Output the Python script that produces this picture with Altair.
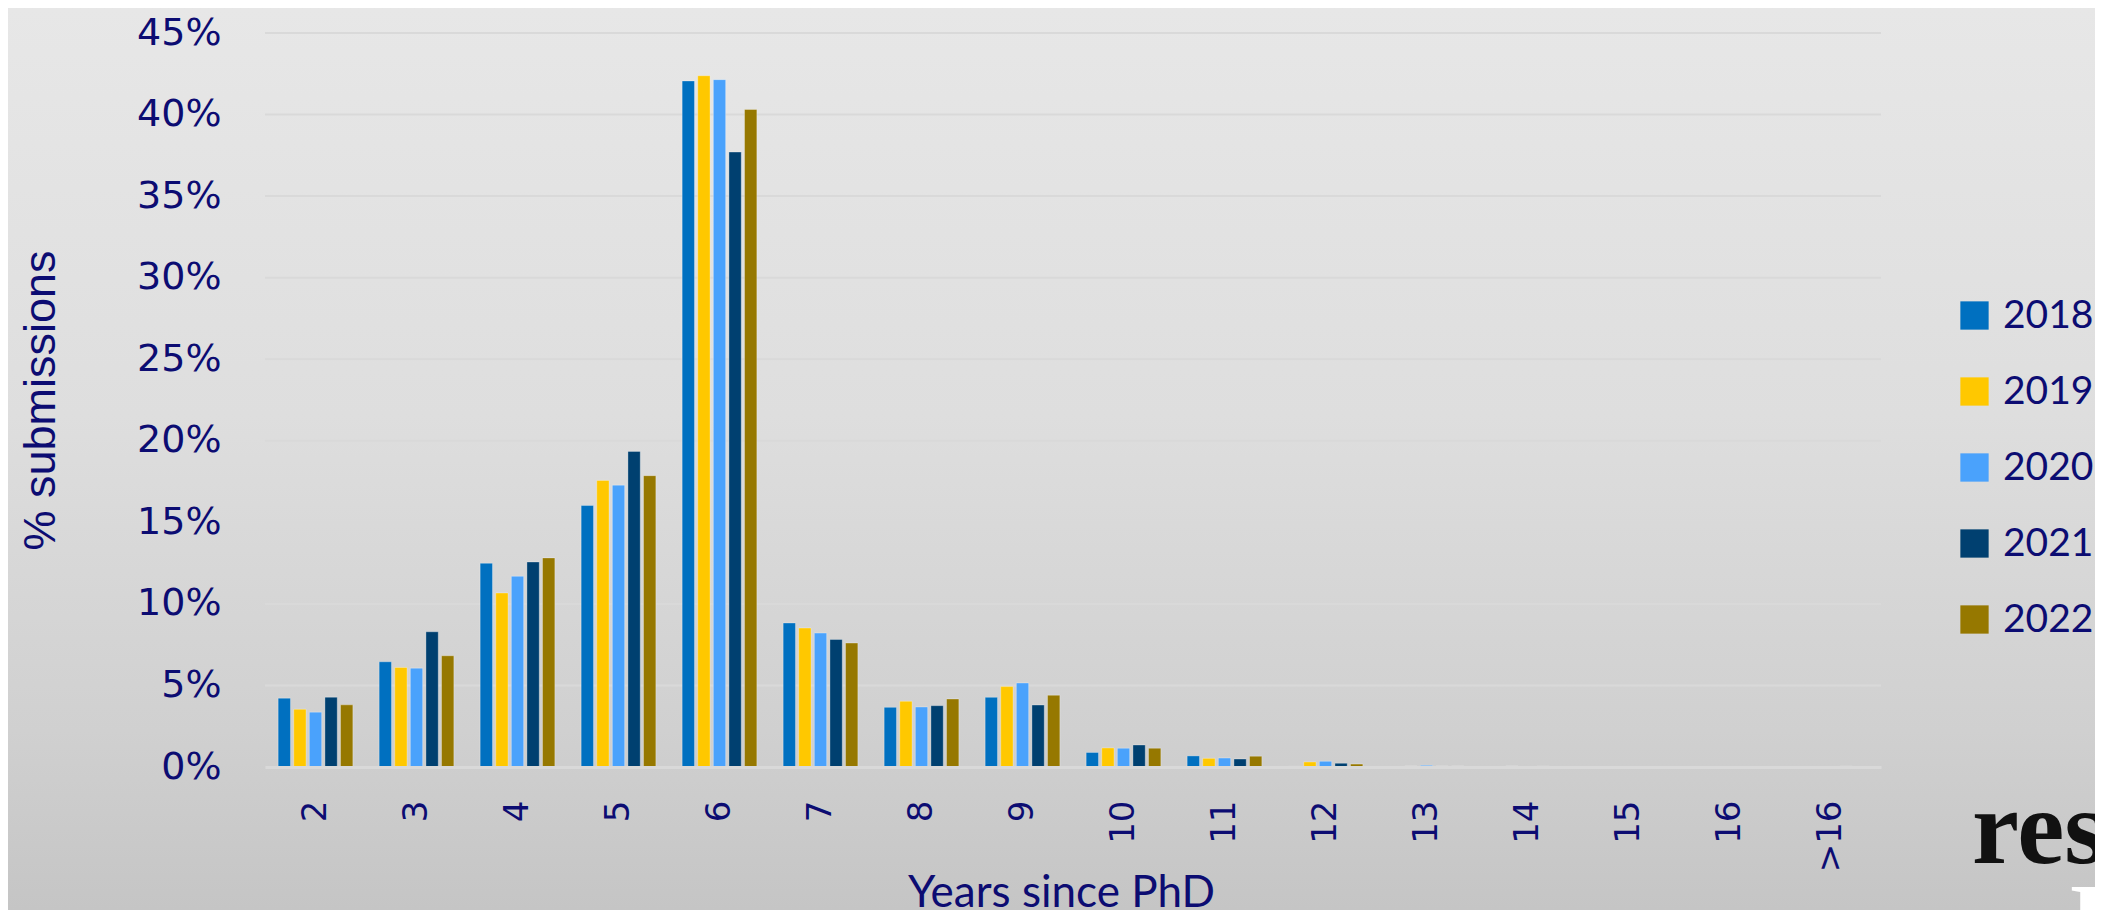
import altair as alt
import pandas as pd

# ---- data ----
categories = ["2", "3", "4", "5", "6", "7", "8", "9", "10", "11", "12", "13", "14", "15", "16", ">16"]
years = ["2018", "2019", "2020", "2021", "2022"]

v2018 = [4.22, 6.45, 12.49, 16.03, 42.06, 8.83, 3.66, 4.27, 0.89, 0.68, 0.04, 0.00, 0.00, 0.00, 0.00, 0.00]
v2019 = [3.54, 6.10, 10.67, 17.57, 42.38, 8.52, 4.03, 4.93, 1.17, 0.53, 0.31, 0.06, 0.06, 0.00, 0.00, 0.00]
v2020 = [3.36, 6.06, 11.69, 17.28, 42.14, 8.21, 3.68, 5.15, 1.15, 0.55, 0.35, 0.10, 0.00, 0.00, 0.00, 0.00]
v2021 = [4.28, 8.29, 12.57, 19.35, 37.70, 7.82, 3.76, 3.80, 1.35, 0.49, 0.23, 0.06, 0.05, 0.00, 0.00, 0.05]
v2022 = [3.81, 6.82, 12.82, 17.86, 40.31, 7.60, 4.17, 4.40, 1.15, 0.66, 0.18, 0.06, 0.00, 0.00, 0.00, 0.00]

y_ticks = [0, 5, 10, 15, 20, 25, 30, 35, 40, 45]
colors = ["#0070c0", "#ffc800", "#4aa2fc", "#004070", "#967800"]

rows = []
for yr, vals in zip(years, [v2018, v2019, v2020, v2021, v2022]):
    for c, v in zip(categories, vals):
        rows.append({"cat": c, "year": yr, "pct": v})
df = pd.DataFrame(rows)
grid_df = pd.DataFrame({"pct": y_ticks[1:]})

# ---- layout ----
W, H = 1616, 734
PAD = {"left": 257, "top": 25, "right": 214, "bottom": 143}
TEXT = "#0c0c72"
one = pd.DataFrame({"a": [0]})

bg = alt.Chart(one).mark_rect(
    color=alt.LinearGradient(
        gradient="linear",
        stops=[
            alt.GradientStop(offset=0, color="#e7e7e7"),
            alt.GradientStop(offset=0.45, color="#dedede"),
            alt.GradientStop(offset=0.8, color="#d0d0d0"),
            alt.GradientStop(offset=1, color="#c5c5c5"),
        ],
        x1=0, x2=0, y1=0, y2=1,
    )
).encode(
    x=alt.value(-PAD["left"]), x2=alt.value(W + PAD["right"]),
    y=alt.value(-PAD["top"]), y2=alt.value(H + PAD["bottom"]),
)

grid = alt.Chart(grid_df).mark_rule(color="#d9d9d9", strokeWidth=2).encode(
    y=alt.Y("pct:Q"),
    x=alt.value(0), x2=alt.value(W),
)

bars = alt.Chart(df).mark_bar(stroke="white", strokeOpacity=0.3, strokeWidth=1).encode(
    x=alt.X(
        "cat:N", sort=categories,
        scale=alt.Scale(paddingInner=0.228, paddingOuter=0.114),
        axis=alt.Axis(
            title="Years since PhD", labelAngle=270, labelFont="DejaVu Sans", labelFontSize=34,
            labelColor=TEXT, labelPadding=33, ticks=False, domain=True, domainColor="#d9d9d9",
            domainWidth=3, grid=False, titleFont="Lato", titleFontSize=44, titleFontWeight="normal",
            titleColor=TEXT, titleX=796, titleY=139, titleBaseline="alphabetic", titleAlign="center",
            zindex=1,
        ),
    ),
    xOffset=alt.XOffset("year:N", sort=years, scale=alt.Scale(paddingInner=0.21, paddingOuter=0.105)),
    y=alt.Y(
        "pct:Q", scale=alt.Scale(domain=[0, 45], nice=False),
        axis=alt.Axis(
            values=y_ticks, labelExpr="datum.value + '%'", labelFont="DejaVu Sans", labelFontSize=38,
            labelColor=TEXT, labelPadding=44, domain=False, ticks=False, grid=False,
            title="% submissions", titleFont="Liberation Sans", titleFontSize=45,
            titleFontWeight="normal", titleColor=TEXT, titleX=-225, titleY=H / 2, titleAngle=270,
            titleAlign="center", titleBaseline="middle", zindex=1,
        ),
    ),
    color=alt.Color(
        "year:N", scale=alt.Scale(domain=years, range=colors),
        legend=alt.Legend(
            title=None, orient="none", legendX=1690, legendY=263, symbolType="square",
            symbolSize=800, symbolStrokeWidth=0, symbolOpacity=1, labelFont="Lato", labelFontSize=39,
            labelColor=TEXT, rowPadding=36, labelOffset=9, padding=0, labelLimit=300, zindex=1,
        ),
    ),
)

logo = alt.Chart(one).mark_text(
    text="res", font="Liberation Serif", fontWeight="bold", fontSize=106, color="#111111",
    align="left", baseline="alphabetic",
).encode(x=alt.value(1972 - 265), y=alt.value(863 - 33))

logo2 = alt.Chart(one).mark_text(
    text="I", font="Liberation Serif", fontWeight="bold", fontSize=100, color="#ffffff",
    align="center", baseline="alphabetic",
).encode(x=alt.value(2088 - 265), y=alt.value(952 - 33))

chart = alt.layer(bg, grid, bars, logo, logo2).properties(
    width=W, height=H, padding=PAD, autosize=alt.AutoSizeParams(type="none"),
    background="#d8d8d8",
).configure_view(stroke=None)

chart.save("out.html", embed_options={"renderer": "svg", "actions": False})
